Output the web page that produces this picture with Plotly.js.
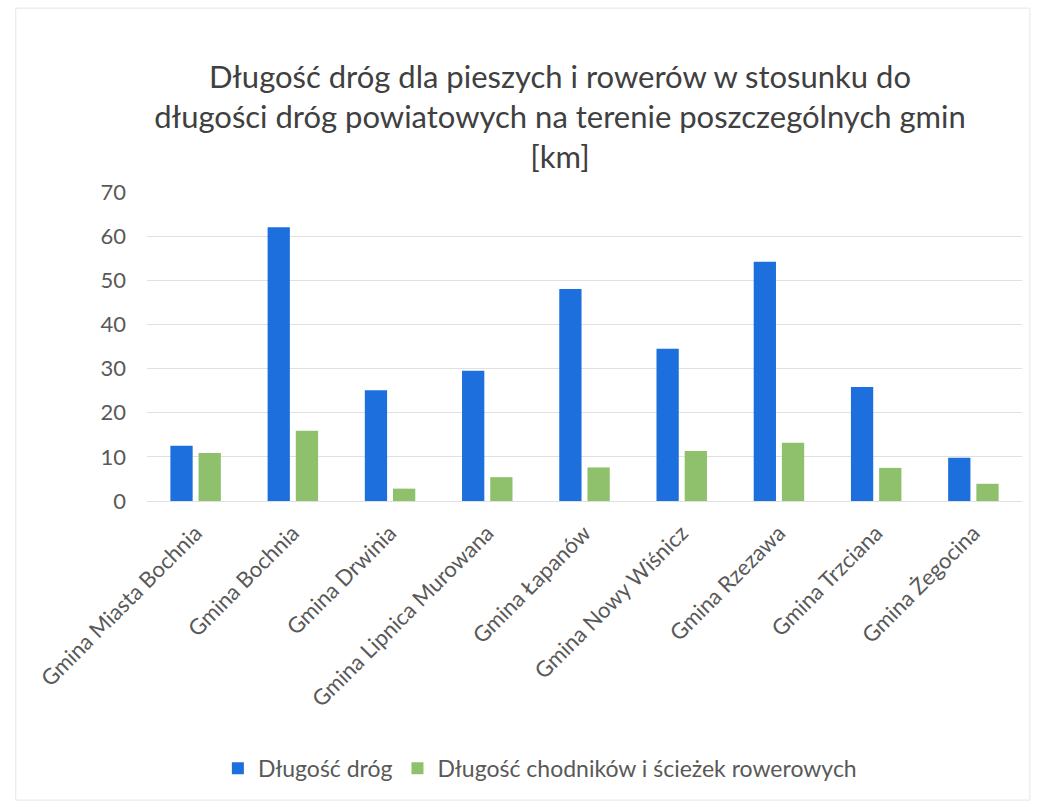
<!DOCTYPE html>
<html>
<head>
<meta charset="utf-8">
<script src="https://cdn.plot.ly/plotly-3.0.1.min.js"></script>
<style>html,body{margin:0;padding:0;background:#fff;}#chart{width:1039px;height:803px;}</style>
</head>
<body>
<div id="chart"></div>
<script>
const categories = ["Gmina Miasta Bochnia","Gmina Bochnia","Gmina Drwinia","Gmina Lipnica Murowana","Gmina Łapanów","Gmina Nowy Wiśnicz","Gmina Rzezawa","Gmina Trzciana","Gmina Żegocina"];
const roadLength = [12.5, 62, 25.1, 29.5, 48, 34.5, 54.2, 25.8, 9.8];
const pathLength = [10.9, 15.9, 2.8, 5.4, 7.6, 11.3, 13.2, 7.5, 3.9];
const seriesNames = ["Długość dróg", "Długość chodników i ścieżek rowerowych"];
const yTicks = [0,10,20,30,40,50,60,70];

const FONT = 'Lato, "Noto Sans", sans-serif';
const data = [
  {type:'bar', x:categories, y:roadLength, name:seriesNames[0], marker:{color:'#1c6fdc'}},
  {type:'bar', x:categories, y:pathLength, name:seriesNames[1], marker:{color:'#8fc16c'}}
];
const layout = {
  width:1039, height:803,
  margin:{l:147, r:17, t:192, b:302},
  paper_bgcolor:'#fff', plot_bgcolor:'#fff',
  font:{family:FONT, color:'#595959'},
  title:{text:'Długość dróg dla pieszych i rowerów w stosunku do<br>długości dróg powiatowych na terenie poszczególnych gmin<br>[km]',
         font:{family:FONT, size:31, color:'#404040'}, x:0.539, xanchor:'center', y:0.891, yanchor:'middle'},
  barmode:'group', bargap:0.42, bargroupgap:0.21,
  showlegend:true,
  legend:{orientation:'h', x:0.449, xanchor:'center', y:-0.865, yanchor:'middle', font:{size:23, color:'#595959'}, itemwidth:30, traceorder:'normal'},
  xaxis:{tickangle:-45, tickfont:{size:22, color:'#595959'}, showline:false, showgrid:false, ticks:'', automargin:false, ticklabelstandoff:14},
  yaxis:{range:[0,70], tickvals:yTicks, tickfont:{size:22, color:'#595959'}, gridcolor:'#e0e0e0', gridwidth:1, zeroline:true, zerolinecolor:'#e0e0e0', showline:false, ticks:'', automargin:false, ticklabelstandoff:20},
  shapes:[{type:'rect', xref:'paper', yref:'paper', x0:-0.150, x1:1.009, y0:-0.968, y1:1.595, line:{color:'#e6e6e6', width:1}, fillcolor:'rgba(0,0,0,0)'}]
};
Plotly.newPlot('chart', data, layout, {displayModeBar:false, staticPlot:true});
</script>
</body>
</html>
